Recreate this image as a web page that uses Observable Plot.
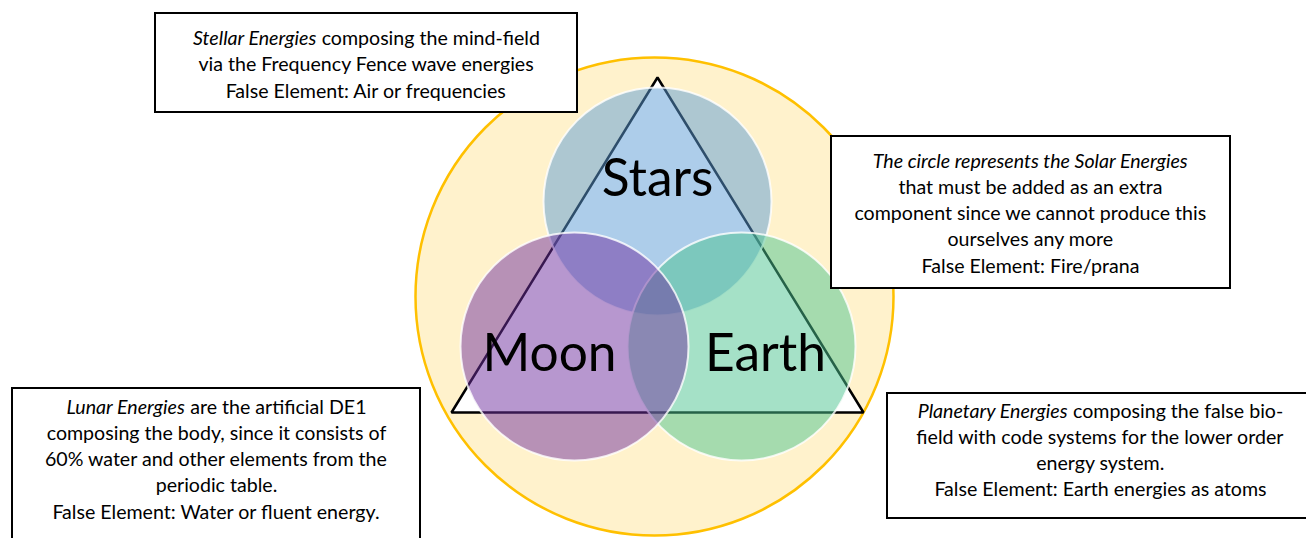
<!DOCTYPE html>
<html><head><meta charset="utf-8">
<script src="https://cdn.jsdelivr.net/npm/d3@7"></script>
<script src="https://cdn.jsdelivr.net/npm/@observablehq/plot@0.6"></script>
<style>body{margin:0;background:#fff;overflow:hidden}</style>
</head><body><div id="chart"></div>
<script>
// ---- data ----  (drawing order: Stars, Earth, Moon)
const circleNames = ["Stars", "Earth", "Moon"];
const circleX = [657, 741, 574];
const circleY = [201, 346, 346];
const circleR = [114, 114, 114];
const circleColors = ["#5B9BD5", "#4BC38F", "#7030A0"];
const labelX = [657, 765, 549];
const labelY = [195, 370, 370];

const outerX = [654], outerY = [296], outerR = [239];
const triX = [657, 451, 863, 657];
const triY = [77, 412, 412, 77];

const boxX1 = [155, 831, 12, 887];
const boxX2 = [577, 1230, 420, 1312];
const boxY1 = [13, 136, 388, 393];
const boxY2 = [112, 288, 545, 518];
const boxTextX = [366, 1030, 216, 1100];
const boxFirstBaseline = [44, 167, 413, 417];
const boxLineGap = [26.5, 26.3, 26.3, 26.2];
const boxItalic = [
  ["Stellar Energies", "", ""],
  ["The circle represents the Solar Energies", "", "", "", ""],
  ["Lunar Energies", "", "", "", ""],
  ["Planetary Energies", "", "", ""]
];
const boxPlain = [
  ["composing the mind-field", "via the Frequency Fence wave energies", "False Element: Air or frequencies"],
  ["", "that must be added as an extra", "component since we cannot produce this", "ourselves any more", "False Element: Fire/prana"],
  ["are the artificial DE1", "composing the body, since it consists of", "60% water and other elements from the", "periodic table.", "False Element: Water or fluent energy."],
  ["composing the false bio-", "field with code systems for the lower order", "energy system.", "False Element: Earth energies as atoms"]
];

// ---- build ----
const FONT = "Lato";
const FS = 19.6;
const ctx = document.createElement("canvas").getContext("2d");
function tw(s, italic) { ctx.font = `${italic ? "italic " : ""}${FS}px ${FONT}`; return ctx.measureText(s).width; }

const circles = circleNames.map((n, i) => ({name: n, x: circleX[i], y: circleY[i], r: circleR[i], color: circleColors[i], lx: labelX[i], ly: labelY[i]}));
const tri = triX.map((x, i) => ({x, y: triY[i]}));
const boxes = boxX1.map((x1, i) => ({x1, x2: boxX2[i], y1: boxY1[i], y2: boxY2[i]}));

const italicSegs = [], plainSegs = [];
boxItalic.forEach((lines, b) => {
  lines.forEach((it, k) => {
    const pl = boxPlain[b][k];
    const y = boxFirstBaseline[b] + k * boxLineGap[b];
    const wi = it ? tw(it, true) : 0;
    const sp = it && pl ? tw(" ", false) : 0;
    const wp = pl ? tw(pl, false) : 0;
    const x0 = boxTextX[b] - (wi + sp + wp) / 2;
    if (it) italicSegs.push({x: x0, y, t: it});
    if (pl) plainSegs.push({x: x0 + wi + sp, y, t: pl});
  });
});

const chart = Plot.plot({
  width: 1306, height: 538,
  margin: 0,
  x: {domain: [0, 1306], range: [0, 1306], axis: null},
  y: {domain: [0, 538], range: [0, 538], axis: null},
  r: {type: "identity"},
  style: {background: "white"},
  marks: [
    Plot.dot(outerX.map((x, i) => ({x, y: outerY[i], r: outerR[i]})), {x: "x", y: "y", r: "r", fill: "#FFF2CC", stroke: "#FFC000", strokeWidth: 2.5}),
    Plot.line(tri, {x: "x", y: "y", fill: "white", stroke: "black", strokeWidth: 2.5, strokeLinejoin: "miter", curve: "linear-closed"}),
    Plot.dot(circles, {x: "x", y: "y", r: "r", fill: "color", fillOpacity: 0.5, stroke: "white", strokeWidth: 2, strokeOpacity: 0.8}),
    Plot.text(circles, {x: "lx", y: "ly", text: "name", fontSize: 51.5, fontFamily: FONT, fill: "black", lineAnchor: "bottom", textAnchor: "middle"}),
    Plot.rect(boxes, {x1: "x1", x2: "x2", y1: "y1", y2: "y2", fill: "white", stroke: "black", strokeWidth: 2}),
    Plot.text(italicSegs, {x: "x", y: "y", text: "t", fontSize: FS, fontFamily: FONT, fontStyle: "italic", fill: "black", textAnchor: "start", lineAnchor: "bottom"}),
    Plot.text(plainSegs, {x: "x", y: "y", text: "t", fontSize: FS, fontFamily: FONT, fill: "black", textAnchor: "start", lineAnchor: "bottom"})
  ]
});
document.getElementById("chart").appendChild(chart);
</script>
</body></html>
